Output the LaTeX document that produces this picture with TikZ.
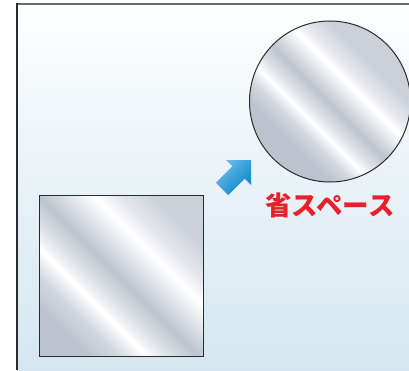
\documentclass[tikz,border=0pt]{standalone}
\usepackage{fontspec}
\newfontfamily\cjk{Noto Sans CJK JP}
\definecolor{mA}{HTML}{BCC3CE}
\definecolor{mB}{HTML}{D3D7DF}
\definecolor{mW}{HTML}{FFFFFF}
\definecolor{mC}{HTML}{DDE0E6}
\definecolor{mD}{HTML}{BDC4CF}
\definecolor{mE}{HTML}{E2E5E9}
\definecolor{mF}{HTML}{E4E6EB}
\definecolor{mH}{HTML}{CBD0D9}
\definecolor{bgtop}{HTML}{FDFEFF}
\definecolor{bgbot}{HTML}{D5E6F0}
\definecolor{arrdark}{HTML}{0586CC}
\definecolor{arrlight}{HTML}{6EBAE8}
\definecolor{lblred}{HTML}{E8202A}
\definecolor{edge}{HTML}{2B2B2B}
% square: stops at 25+50s
\pgfdeclarehorizontalshading{metalsq}{100bp}{color(0bp)=(mA); color(25bp)=(mA); color(32bp)=(mB); color(38bp)=(mW); color(43bp)=(mC); color(49.5bp)=(mD); color(56bp)=(mE); color(61.5bp)=(mW); color(67bp)=(mF); color(75bp)=(mH); color(100bp)=(mH)}
% circle: stops at 32.3+35.4s
\pgfdeclarehorizontalshading{metalci}{100bp}{color(0bp)=(mA); color(32.3bp)=(mA); color(37.3bp)=(mB); color(41.5bp)=(mW); color(45bp)=(mC); color(49.6bp)=(mD); color(54.2bp)=(mE); color(58.1bp)=(mW); color(62bp)=(mF); color(67.7bp)=(mH); color(100bp)=(mH)}
\tikzset{
  metalshape/.style={draw=edge, line width=1.2pt, shading angle=45, inner sep=0pt, outer sep=0pt},
}
\begin{document}
\begin{tikzpicture}[x=1pt,y=1pt]
\useasboundingbox (0,0) rectangle (409,370);
\clip (0,0) rectangle (409,370);
% background panel
\shade[top color=bgtop, bottom color=bgbot] (17,0) rectangle (409,366);
\draw[draw=gray!85!black, line width=1.6pt] (17,366) -- (409,366);
\draw[draw=edge, line width=1.4pt] (17,0) -- (17,366.8);
% square
\node[metalshape, shading=metalsq, minimum width=163.5pt, minimum height=160.5pt] (sq) at (121.5,94) {};
% circle
\node[metalshape, shading=metalci, circle, line width=1pt, minimum size=161pt] (ci) at (330,268.5) {};
% arrow
\shade[left color=arrlight, right color=arrdark, shading angle=45]
  (251,210) -- (226,210) -- (232.3,203.7) -- (215.8,187.2) -- (228.2,174.8) -- (244.7,191.3) -- (251,185) -- cycle;
% label
\node[text=lblred, font=\cjk\bfseries\fontsize{26.5}{26.5}\selectfont, inner sep=0pt] (lbl) at (330,165) {省スペース};
\end{tikzpicture}
\end{document}
